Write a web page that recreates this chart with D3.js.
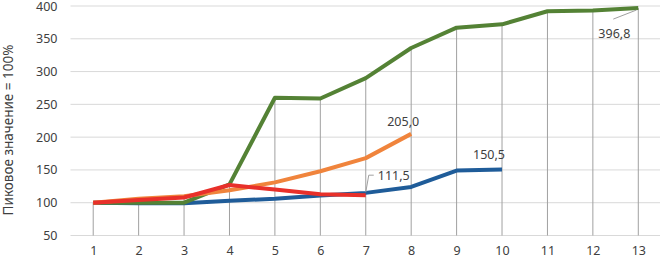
<!DOCTYPE html>
<html><head><meta charset="utf-8">
<script src="https://cdn.jsdelivr.net/npm/d3@7"></script>
<style>body{margin:0;background:#fff}svg{display:block}text{font-family:"Noto Sans",sans-serif}</style>
</head><body><svg id="c" width="660" height="261"></svg>
<script>
const categories = [1,2,3,4,5,6,7,8,9,10,11,12,13];
const yTicks = [50,100,150,200,250,300,350,400];
const seriesGreen  = [100,100,100,128,260,259,290,336,367,372,392,393,396.8];
const seriesOrange = [100,106,110,119,131,148,168,205];
const seriesRed    = [100,104,108,127,120,113,111.5];
const seriesBlue   = [100,99,99,103,106,111,115,124,149,150.5];
const colors = {green:"#548235", orange:"#f0843c", red:"#e8302a", blue:"#1f5c99"};

(function(){
const svg = d3.select("#c");
const mLeft = 70.5, mRight = 661, mTop = 6, mBottom = 235.5;
const x = d3.scalePoint().domain(categories).range([mLeft, mRight]).padding(0.5);
const y = d3.scaleLinear().domain([50,400]).range([mBottom, mTop]);

svg.append("g").selectAll("line").data(yTicks).join("line")
  .attr("x1", mLeft).attr("x2", 660).attr("y1", d=>y(d)).attr("y2", d=>y(d))
  .attr("stroke", "#d9d9d9").attr("stroke-width", 1);

const yAxis = d3.axisLeft(y).tickValues(yTicks).tickSize(0).tickPadding(0);
const ga = svg.append("g").attr("transform", `translate(${mLeft-13},0)`).call(yAxis);
ga.select(".domain").remove();
ga.selectAll("text").attr("font-size", 12.5).attr("fill", "#404040").attr("font-family", "Noto Sans");

const xAxis = d3.axisBottom(x).tickSize(0).tickPadding(0);
const gx = svg.append("g").attr("transform", `translate(0,${mBottom+11})`).call(xAxis);
gx.select(".domain").remove();
gx.selectAll("text").attr("font-size", 12.5).attr("fill", "#404040").attr("font-family", "Noto Sans");

const all = [seriesGreen, seriesOrange, seriesRed, seriesBlue];
const maxes = categories.map((c,i)=>d3.max(all, s=> s[i]));
svg.append("g").selectAll("line").data(categories).join("line")
  .attr("x1", d=>x(d)).attr("x2", d=>x(d))
  .attr("y1", (d,i)=>y(maxes[i])).attr("y2", mBottom)
  .attr("stroke", "#a0a0a0").attr("stroke-width", 1);

const line = d3.line().x((d,i)=>x(categories[i])).y(d=>y(d));
const order = [["blue",seriesBlue],["green",seriesGreen],["orange",seriesOrange],["red",seriesRed]];
order.forEach(([k,s])=>{
  svg.append("path").datum(s).attr("d", line).attr("fill","none")
    .attr("stroke", colors[k]).attr("stroke-width", 4).attr("stroke-linejoin","round");
});

svg.append("text").attr("transform", "translate(13,130) rotate(-90)")
  .attr("text-anchor","middle").attr("font-size", 13.5).attr("fill", "#404040")
  .text("Пиковое значение = 100%");

const lab = svg.append("g").attr("font-size", 12.5).attr("fill", "#404040");
{
  const px = x(categories[12]), py = y(seriesGreen[12]);
  svg.append("line").attr("x1", px-2).attr("y1", py+2).attr("x2", px-25).attr("y2", py+11)
    .attr("stroke","#a0a0a0").attr("stroke-width",1);
  lab.append("text").attr("x", px-8).attr("y", py+30).attr("text-anchor","end").text("396,8");
}
{
  const px = x(categories[7]), py = y(seriesOrange[7]);
  lab.append("text").attr("x", px-8).attr("y", py-8).attr("text-anchor","middle").text("205,0");
}
{
  const px = x(categories[6]), py = y(seriesRed[6]);
  svg.append("polyline").attr("points", `${px},${py-3} ${px+3},${py-20} ${px+8},${py-20}`)
    .attr("fill","none").attr("stroke","#a0a0a0").attr("stroke-width",1);
  lab.append("text").attr("x", px+12).attr("y", py-15).text("111,5");
}
{
  const px = x(categories[9]), py = y(seriesBlue[9]);
  lab.append("text").attr("x", px-13).attr("y", py-11).attr("text-anchor","middle").text("150,5");
}
})();
</script></body></html>
